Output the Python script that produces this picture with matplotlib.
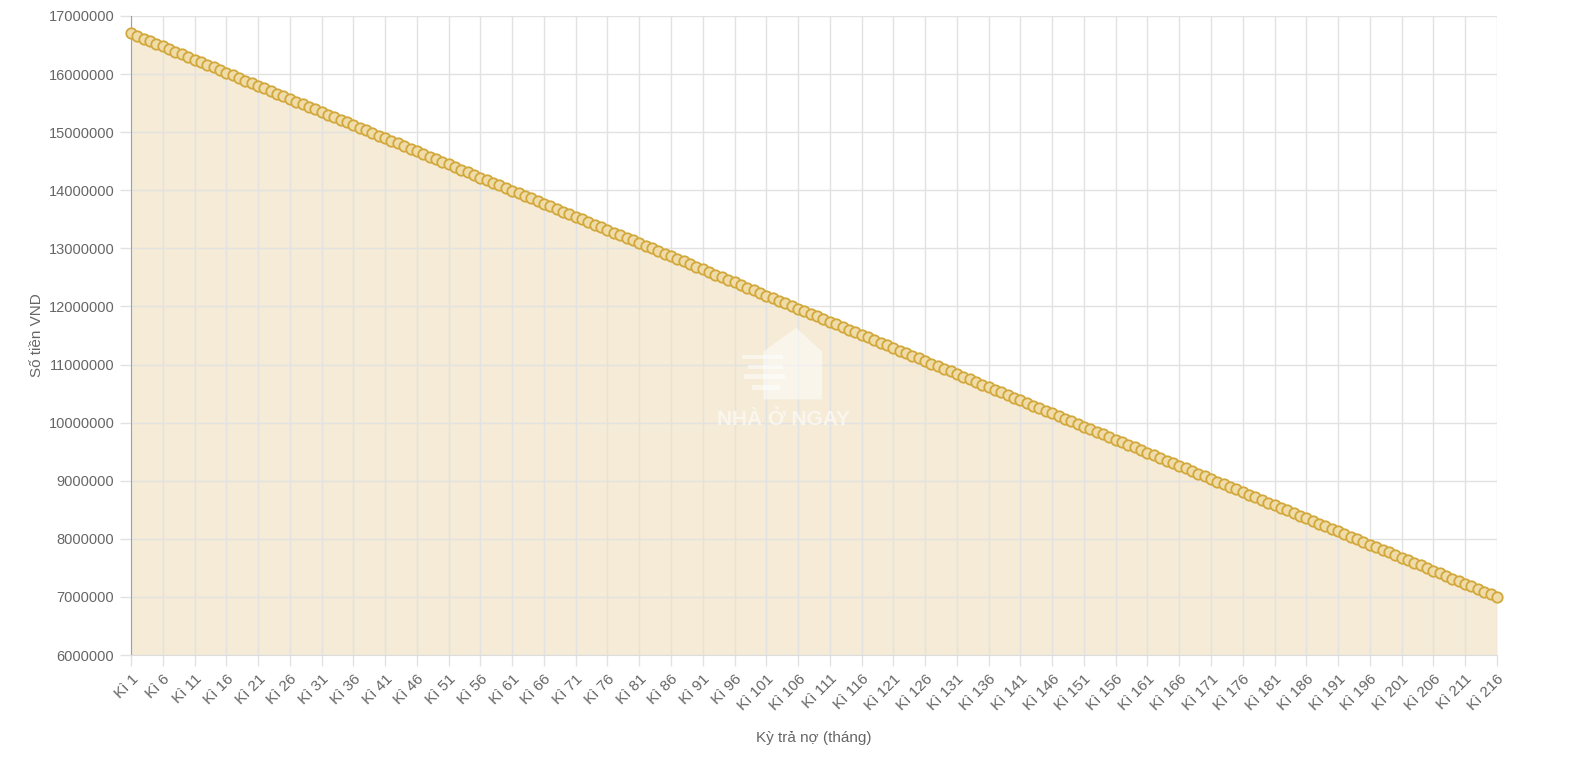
import matplotlib
matplotlib.use('Agg')
import matplotlib.pyplot as plt
from matplotlib.patches import Polygon, Rectangle

plt.rcParams['font.family'] = ['Liberation Sans', 'DejaVu Sans']

# so tien tra moi ky (VND)
payments = [
    16700000, 16655000, 16610000, 16565000, 16520000, 16474000, 16429000, 16384000, 16339000, 16294000,
    16249000, 16204000, 16159000, 16113000, 16068000, 16023000, 15978000, 15933000, 15888000, 15843000,
    15798000, 15753000, 15707000, 15662000, 15617000, 15572000, 15527000, 15482000, 15437000, 15392000,
    15347000, 15301000, 15256000, 15211000, 15166000, 15121000, 15076000, 15031000, 14986000, 14940000,
    14895000, 14850000, 14805000, 14760000, 14715000, 14670000, 14625000, 14580000, 14534000, 14489000,
    14444000, 14399000, 14354000, 14309000, 14264000, 14219000, 14173000, 14128000, 14083000, 14038000,
    13993000, 13948000, 13903000, 13858000, 13813000, 13767000, 13722000, 13677000, 13632000, 13587000,
    13542000, 13497000, 13452000, 13407000, 13361000, 13316000, 13271000, 13226000, 13181000, 13136000,
    13091000, 13046000, 13000000, 12955000, 12910000, 12865000, 12820000, 12775000, 12730000, 12685000,
    12640000, 12594000, 12549000, 12504000, 12459000, 12414000, 12369000, 12324000, 12279000, 12233000,
    12188000, 12143000, 12098000, 12053000, 12008000, 11963000, 11918000, 11873000, 11827000, 11782000,
    11737000, 11692000, 11647000, 11602000, 11557000, 11512000, 11467000, 11421000, 11376000, 11331000,
    11286000, 11241000, 11196000, 11151000, 11106000, 11060000, 11015000, 10970000, 10925000, 10880000,
    10835000, 10790000, 10745000, 10700000, 10654000, 10609000, 10564000, 10519000, 10474000, 10429000,
    10384000, 10339000, 10293000, 10248000, 10203000, 10158000, 10113000, 10068000, 10023000, 9978000,
    9933000, 9887000, 9842000, 9797000, 9752000, 9707000, 9662000, 9617000, 9572000, 9527000,
    9481000, 9436000, 9391000, 9346000, 9301000, 9256000, 9211000, 9166000, 9120000, 9075000,
    9030000, 8985000, 8940000, 8895000, 8850000, 8805000, 8760000, 8714000, 8669000, 8624000,
    8579000, 8534000, 8489000, 8444000, 8399000, 8353000, 8308000, 8263000, 8218000, 8173000,
    8128000, 8083000, 8038000, 7993000, 7947000, 7902000, 7857000, 7812000, 7767000, 7722000,
    7677000, 7632000, 7587000, 7541000, 7496000, 7451000, 7406000, 7361000, 7316000, 7271000,
    7226000, 7180000, 7135000, 7090000, 7045000, 7000000,
]
periods = [f'Kì {i + 1}' for i in range(len(payments))]
y_ticks = [6000000, 7000000, 8000000, 9000000, 10000000, 11000000,
           12000000, 13000000, 14000000, 15000000, 16000000, 17000000]

LINE = '#d2a83c'
FILL = '#f5ebd6'
TXT = '#666666'
GRID = '#e2e2e2'

fig = plt.figure(figsize=(15.84, 7.59), dpi=100)
ax = fig.add_axes([0.0827, 0.137, 0.945 - 0.0827, 0.979 - 0.137])

x = list(range(len(payments)))
ax.fill_between(x, payments, 6000000, color=FILL, zorder=1, linewidth=0)
ax.plot(x, payments, color=LINE, linewidth=2.5, marker='o', markersize=7.5,
        markerfacecolor='#efdca8', markeredgecolor=LINE, markeredgewidth=1.3,
        zorder=3, clip_on=False)

ax.set_xlim(0, len(payments) - 1)
ax.set_ylim(6000000, 17000000)

shown = x[::5]
ax.set_xticks(shown)
ax.set_xticklabels([periods[i] for i in shown], rotation=45, ha='right',
                   rotation_mode='anchor', color=TXT, fontsize=11)
ax.set_yticks(y_ticks)
ax.set_yticklabels([str(v) for v in y_ticks], color=TXT, fontsize=10.5)
ax.tick_params(axis='both', length=8, color=GRID, width=1, pad=4)

ax.grid(True, color=GRID, linewidth=1, zorder=2)
for s in ['top', 'right']:
    ax.spines[s].set_visible(False)
ax.spines['left'].set_color('#a0a0a0')
ax.spines['bottom'].set_color('#dddddd')

ax.set_ylabel('Số tiền VND', color=TXT, fontsize=11, labelpad=3)
ax.set_xlabel('Kỳ trả nợ (tháng)', color=TXT, fontsize=11, labelpad=13)

# watermark logo
wm = dict(transform=ax.transAxes, facecolor='white', alpha=0.5, edgecolor='none', zorder=4)
ax.add_patch(Polygon([[0.463, 0.40], [0.463, 0.475], [0.487, 0.512],
                      [0.506, 0.475], [0.506, 0.40]], closed=True, **wm))
for yy, x0, w in [(0.463, 0.447, 0.03), (0.447, 0.452, 0.025), (0.432, 0.449, 0.03), (0.415, 0.455, 0.02)]:
    ax.add_patch(Rectangle((x0, yy), w, 0.007, **wm))
ax.text(0.478, 0.369, 'NHÀ Ở NGAY', transform=ax.transAxes, ha='center', va='center',
        fontsize=15, fontweight='bold', color='white', alpha=0.6, zorder=4)

fig.savefig('out.png', dpi=100)
